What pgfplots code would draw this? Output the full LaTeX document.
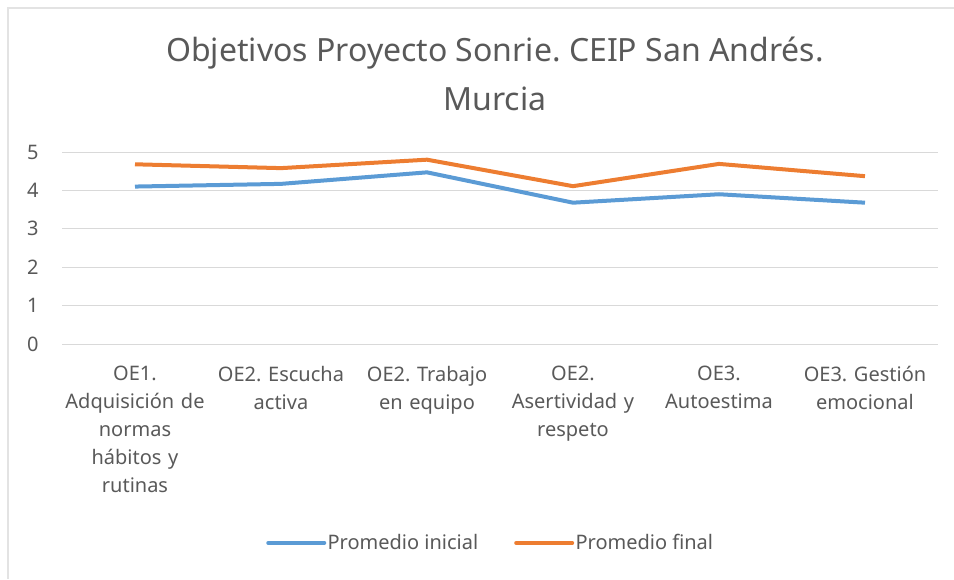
\documentclass[border=0pt]{standalone}
\usepackage{fontspec}
\setmainfont{Noto Sans}
\usepackage{pgfplots}
\pgfplotsset{compat=1.18}
\definecolor{txt}{HTML}{595959}
\definecolor{gridc}{HTML}{D9D9D9}
\definecolor{frame}{HTML}{E3E3E3}
\definecolor{ini}{HTML}{5B9BD5}
\definecolor{fin}{HTML}{ED7D31}

\begin{document}
\frenchspacing
\begin{tikzpicture}[x=0.75pt,y=0.75pt]
\path[use as bounding box] (0,0) rectangle (954,579);
\draw[frame, line width=1.2pt] (8,0) -- (8,571) -- (954,571);
\node[txt, font=\fontsize{24}{37}\selectfont, align=center] at (495,505)
  {Objetivos Proyecto Sonrie. CEIP San Andrés.\\ Murcia};
\begin{axis}[
  at={(46.5pt,176.25pt)}, anchor=south west,
  scale only axis, width=657pt, height=144pt,
  xmin=-0.5, xmax=5.5, ymin=0, ymax=5,
  ytick={0,1,2,3,4,5}, xtick=data,
  xticklabels={{OE1.\\Adquisición de\\normas\\hábitos y\\rutinas},
    {OE2. Escucha\\activa}, {OE2. Trabajo\\en equipo},
    {OE2.\\Asertividad y\\respeto}, {OE3.\\Autoestima},
    {OE3. Gestión\\emocional}},
  axis line style={draw=none}, major tick length=0pt,
  ymajorgrids, grid style={gridc, line width=0.75pt},
  /pgf/number format/assume math mode=true,
  tick label style={txt, font=\fontsize{15}{21}\selectfont},
  xticklabel style={align=center, text width=110pt, yshift=-13pt},
  yticklabel style={xshift=-14pt},
  legend columns=2,
  legend style={at={(0.489,-1.036)}, anchor=center, draw=none,
    font=\fontsize{15}{18}\selectfont, text=txt,
    nodes={inner sep=1pt},
    /tikz/every even column/.append style={column sep=26pt}},
  legend image code/.code={\draw[#1, line cap=round] (0pt,0pt) -- (42pt,0pt);},
  every axis plot/.append style={line width=3pt, line join=round, mark=none},
]
\addplot[ini] coordinates {(0,4.1) (1,4.17) (2,4.47) (3,3.68) (4,3.9) (5,3.68)};
\addlegendentry{Promedio inicial}
\addplot[fin] coordinates {(0,4.68) (1,4.58) (2,4.8) (3,4.11) (4,4.69) (5,4.37)};
\addlegendentry{Promedio final}
\end{axis}
\end{tikzpicture}
\end{document}
